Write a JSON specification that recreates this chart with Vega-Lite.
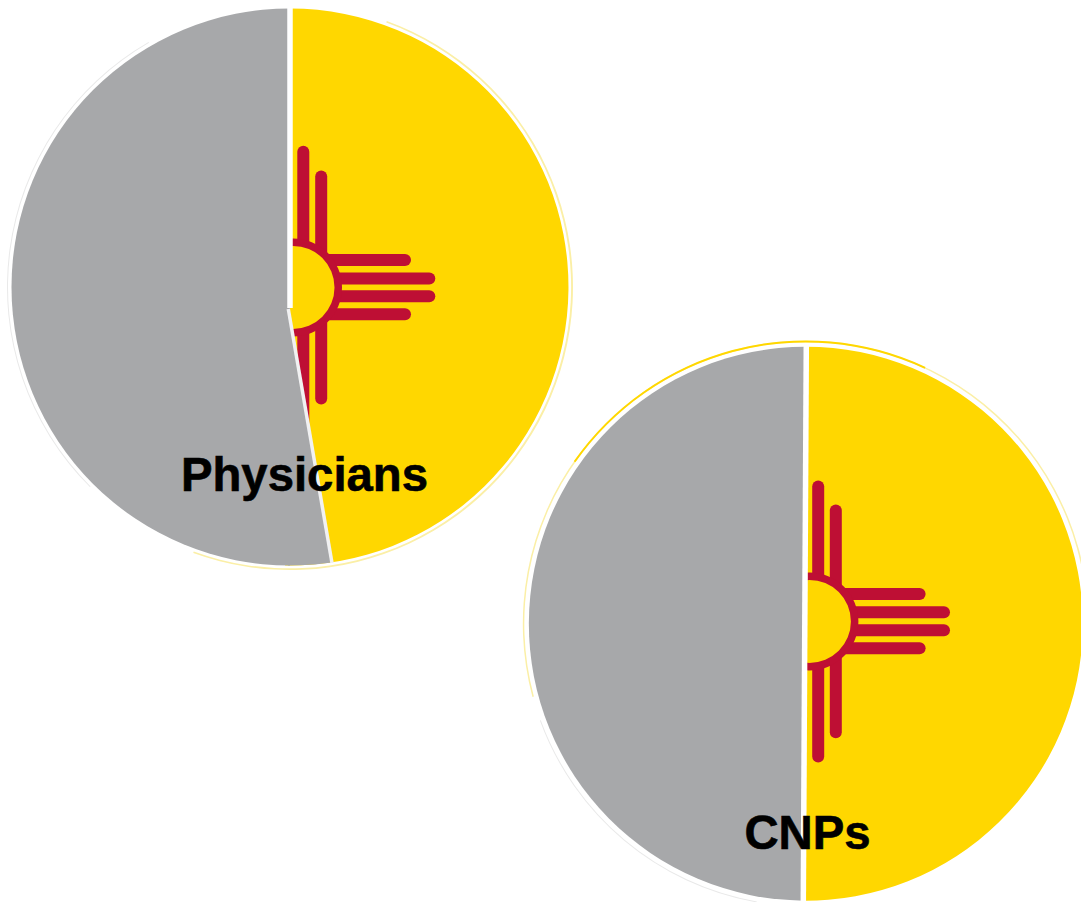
{
  "$schema": "https://vega.github.io/schema/vega-lite/v6.json",
  "width": 1081,
  "height": 902,
  "padding": 0,
  "autosize": "none",
  "background": "white",
  "view": {"stroke": null},
  "datasets": {
    "paleRim": [
      {"pie": "Physicians", "x": 290, "y": 287, "start": 20, "end": 200},
      {"pie": "CNPs", "x": 805.8, "y": 623.7, "start": 255, "end": 460}
    ],
    "strongRim": [
      {"pie": "CNPs", "x": 805.8, "y": 623.7, "start": 305, "end": 385}
    ],
    "greyRim": [
      {"pie": "Physicians", "x": 290, "y": 287, "start": 225, "end": 330},
      {"pie": "CNPs", "x": 805.8, "y": 623.7, "start": 190, "end": 250}
    ],
    "yellowSlices": [
      {"pie": "Physicians", "x": 290, "y": 287, "start": 0, "end": 181},
      {"pie": "CNPs", "x": 805.8, "y": 623.7, "start": 0, "end": 181}
    ],
    "grayHalves": [
      {"pie": "Physicians", "x": 290, "y": 287, "start": 180, "end": 360},
      {"pie": "CNPs", "x": 805.8, "y": 623.7, "start": 180.5, "end": 360}
    ],
    "grayWedge": [
      {"x": 288, "top": 306.7, "bottom": 565.5},
      {"x": 300, "top": 377.3, "bottom": 565.3},
      {"x": 315, "top": 464.9, "bottom": 564.4},
      {"x": 331.5, "top": 561.5, "bottom": 562.4}
    ],
    "rays": [
      {"pie": "Physicians", "x": 303.3, "x2": 303.3, "y": 151.7, "y2": 423.1},
      {"pie": "Physicians", "x": 321.2, "x2": 321.2, "y": 176.4, "y2": 398.4},
      {"pie": "Physicians", "x": 300, "x2": 405, "y": 260, "y2": 260},
      {"pie": "Physicians", "x": 300, "x2": 429.3, "y": 278.5, "y2": 278.5},
      {"pie": "Physicians", "x": 300, "x2": 429.3, "y": 296.3, "y2": 296.3},
      {"pie": "Physicians", "x": 300, "x2": 405, "y": 314.3, "y2": 314.3},
      {"pie": "CNPs", "x": 818.2, "x2": 818.2, "y": 486.4, "y2": 756.6},
      {"pie": "CNPs", "x": 835.8, "x2": 835.8, "y": 510.4, "y2": 732.3},
      {"pie": "CNPs", "x": 815, "x2": 919.6, "y": 594, "y2": 594},
      {"pie": "CNPs", "x": 815, "x2": 944, "y": 612.3, "y2": 612.3},
      {"pie": "CNPs", "x": 815, "x2": 944, "y": 630.3, "y2": 630.3},
      {"pie": "CNPs", "x": 815, "x2": 919.6, "y": 648.3, "y2": 648.3}
    ],
    "suns": [
      {"pie": "Physicians", "x": 293, "y": 287.4, "start": 0, "end": 360},
      {"pie": "CNPs", "x": 809.4, "y": 621.4, "start": 0, "end": 360}
    ],
    "dividers": [
      {"pie": "Physicians", "x": 290, "x2": 290, "y": 6, "y2": 308},
      {"pie": "CNPs", "x": 806.3, "x2": 803.3, "y": 345, "y2": 902}
    ],
    "slantDivider": [
      {"pie": "Physicians", "x": 288.3, "x2": 332, "y": 309, "y2": 563}
    ],
    "labels": [
      {"pie": "Physicians", "x": 304.5, "y": 490.7},
      {"pie": "CNPs", "x": 807.5, "y": 849}
    ]
  },
  "encoding": {},
  "layer": [
    {
      "data": {"name": "greyRim"},
      "mark": {"type": "arc", "innerRadius": 282, "outerRadius": 283, "fill": "#E9E9E9"},
      "encoding": {
        "x": {"field": "x", "type": "quantitative", "scale": {"domain": [0, 1081], "range": [0, 1081], "nice": false, "zero": false}, "axis": null},
        "y": {"field": "y", "type": "quantitative", "scale": {"domain": [0, 902], "range": [0, 902], "nice": false, "zero": false}, "axis": null},
        "theta": {"field": "start", "type": "quantitative", "stack": null, "scale": {"domain": [0, 360], "range": [0, 6.283185], "clamp": false}},
        "theta2": {"field": "end"}
      }
    },
    {
      "data": {"name": "paleRim"},
      "mark": {"type": "arc", "innerRadius": 281.5, "outerRadius": 283, "fill": "#FBEFA6"},
      "encoding": {
        "x": {"field": "x", "type": "quantitative", "axis": null},
        "y": {"field": "y", "type": "quantitative", "axis": null},
        "theta": {"field": "start", "type": "quantitative", "stack": null},
        "theta2": {"field": "end"}
      }
    },
    {
      "data": {"name": "strongRim"},
      "mark": {"type": "arc", "innerRadius": 281.3, "outerRadius": 283.3, "fill": "#FFD700"},
      "encoding": {
        "x": {"field": "x", "type": "quantitative", "axis": null},
        "y": {"field": "y", "type": "quantitative", "axis": null},
        "theta": {"field": "start", "type": "quantitative", "stack": null},
        "theta2": {"field": "end"}
      }
    },
    {
      "data": {"name": "yellowSlices"},
      "transform": [{"filter": "datum.pie === 'Physicians'"}],
      "mark": {"type": "arc", "innerRadius": 0, "outerRadius": 278.5, "fill": "#FFD700"},
      "encoding": {
        "x": {"field": "x", "type": "quantitative", "axis": null},
        "y": {"field": "y", "type": "quantitative", "axis": null},
        "theta": {"field": "start", "type": "quantitative", "stack": null},
        "theta2": {"field": "end"}
      }
    },
    {
      "data": {"name": "yellowSlices"},
      "transform": [{"filter": "datum.pie === 'CNPs'"}],
      "mark": {"type": "arc", "innerRadius": 0, "outerRadius": 277, "fill": "#FFD700"},
      "encoding": {
        "x": {"field": "x", "type": "quantitative", "axis": null},
        "y": {"field": "y", "type": "quantitative", "axis": null},
        "theta": {"field": "start", "type": "quantitative", "stack": null},
        "theta2": {"field": "end"}
      }
    },
    {
      "data": {"name": "rays"},
      "mark": {"type": "rule", "stroke": "#BE0F34", "strokeWidth": 12, "strokeCap": "round"},
      "encoding": {
        "x": {"field": "x", "type": "quantitative", "axis": null},
        "x2": {"field": "x2"},
        "y": {"field": "y", "type": "quantitative", "axis": null},
        "y2": {"field": "y2"}
      }
    },
    {
      "data": {"name": "suns"},
      "mark": {"type": "arc", "innerRadius": 0, "outerRadius": 49, "fill": "#BE0F34"},
      "encoding": {
        "x": {"field": "x", "type": "quantitative", "axis": null},
        "y": {"field": "y", "type": "quantitative", "axis": null},
        "theta": {"field": "start", "type": "quantitative", "stack": null},
        "theta2": {"field": "end"}
      }
    },
    {
      "data": {"name": "suns"},
      "mark": {"type": "arc", "innerRadius": 0, "outerRadius": 41.5, "fill": "#FFD700"},
      "encoding": {
        "x": {"field": "x", "type": "quantitative", "axis": null},
        "y": {"field": "y", "type": "quantitative", "axis": null},
        "theta": {"field": "start", "type": "quantitative", "stack": null},
        "theta2": {"field": "end"}
      }
    },
    {
      "data": {"name": "grayHalves"},
      "transform": [{"filter": "datum.pie === 'Physicians'"}],
      "mark": {"type": "arc", "innerRadius": 0, "outerRadius": 278.5, "fill": "#A7A8AA"},
      "encoding": {
        "x": {"field": "x", "type": "quantitative", "axis": null},
        "y": {"field": "y", "type": "quantitative", "axis": null},
        "theta": {"field": "start", "type": "quantitative", "stack": null},
        "theta2": {"field": "end"}
      }
    },
    {
      "data": {"name": "grayHalves"},
      "transform": [{"filter": "datum.pie === 'CNPs'"}],
      "mark": {"type": "arc", "innerRadius": 0, "outerRadius": 277, "fill": "#A7A8AA"},
      "encoding": {
        "x": {"field": "x", "type": "quantitative", "axis": null},
        "y": {"field": "y", "type": "quantitative", "axis": null},
        "theta": {"field": "start", "type": "quantitative", "stack": null},
        "theta2": {"field": "end"}
      }
    },
    {
      "data": {"name": "grayWedge"},
      "mark": {"type": "area", "fill": "#A7A8AA", "orient": "vertical"},
      "encoding": {
        "x": {"field": "x", "type": "quantitative", "axis": null},
        "y": {"field": "top", "type": "quantitative", "axis": null},
        "y2": {"field": "bottom"}
      }
    },
    {
      "data": {"name": "dividers"},
      "mark": {"type": "rule", "stroke": "white", "strokeWidth": 5.5},
      "encoding": {
        "x": {"field": "x", "type": "quantitative", "axis": null},
        "x2": {"field": "x2"},
        "y": {"field": "y", "type": "quantitative", "axis": null},
        "y2": {"field": "y2"}
      }
    },
    {
      "data": {"name": "slantDivider"},
      "mark": {"type": "rule", "stroke": "#F1F1F2", "strokeWidth": 3.5},
      "encoding": {
        "x": {"field": "x", "type": "quantitative", "axis": null},
        "x2": {"field": "x2"},
        "y": {"field": "y", "type": "quantitative", "axis": null},
        "y2": {"field": "y2"}
      }
    },
    {
      "data": {"name": "labels"},
      "mark": {"type": "text", "font": "Liberation Sans", "fontWeight": "bold", "fontSize": 47.3, "align": "center", "baseline": "alphabetic", "fill": "black", "stroke": "black", "strokeWidth": 0.6},
      "encoding": {
        "x": {"field": "x", "type": "quantitative", "axis": null},
        "y": {"field": "y", "type": "quantitative", "axis": null},
        "text": {"field": "pie", "type": "nominal"}
      }
    }
  ]
}
